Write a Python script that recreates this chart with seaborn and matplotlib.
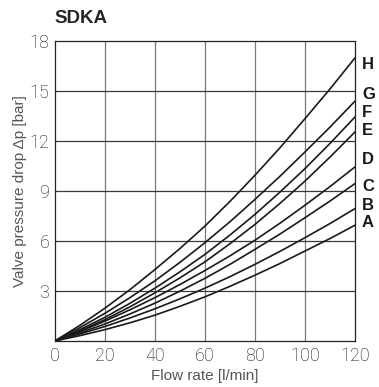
import pandas as pd
import matplotlib
matplotlib.use('Agg')
import matplotlib.pyplot as plt
import seaborn as sns

# Flow rate [l/min] and pressure drop [bar]
flow = [0, 10, 20, 30, 40, 50, 60, 70, 80, 90, 100, 110, 120]
curve_A = [0, 0.32, 0.68, 1.09, 1.55, 2.08, 2.65, 3.28, 3.95, 4.65, 5.40, 6.15, 6.95]
curve_B = [0, 0.42, 0.87, 1.38, 1.93, 2.53, 3.17, 3.86, 4.60, 5.38, 6.20, 7.05, 7.95]
curve_C = [0, 0.49, 1.02, 1.62, 2.27, 2.99, 3.76, 4.60, 5.50, 6.42, 7.40, 8.40, 9.45]
curve_D = [0, 0.57, 1.19, 1.87, 2.60, 3.39, 4.23, 5.11, 6.05, 7.07, 8.15, 9.27, 10.45]
curve_E = [0, 0.61, 1.28, 2.05, 2.89, 3.79, 4.75, 5.84, 7.00, 8.26, 9.60, 11.04, 12.55]
curve_F = [0, 0.68, 1.42, 2.26, 3.17, 4.15, 5.20, 6.36, 7.60, 8.94, 10.35, 11.86, 13.45]
curve_G = [0, 0.80, 1.66, 2.60, 3.61, 4.72, 5.90, 7.16, 8.50, 9.89, 11.35, 12.84, 14.40]
curve_H = [0, 0.94, 1.97, 3.08, 4.29, 5.55, 6.90, 8.38, 9.95, 11.60, 13.35, 15.13, 17.00]
names = ['A', 'B', 'C', 'D', 'E', 'F', 'G', 'H']
x_ticks = [0, 20, 40, 60, 80, 100, 120]
y_ticks = [3, 6, 9, 12, 15, 18]

curves = [curve_A, curve_B, curve_C, curve_D, curve_E, curve_F, curve_G, curve_H]
rows = []
for name, vals in zip(names, curves):
    for q, dp in zip(flow, vals):
        rows.append({'flow': q, 'dp': dp, 'curve': name})
df = pd.DataFrame(rows)

sns.set_style('white')
plt.rcParams['font.family'] = ['Liberation Sans', 'DejaVu Sans']

fig = plt.figure(figsize=(3.79, 3.87), dpi=100)
ax = fig.add_axes([0.145, 0.119, 0.792, 0.775])

# grid first so curves sit on top
for x in x_ticks[1:-1]:
    ax.axvline(x, color='#7a7a7a', lw=0.9, zorder=1)
for y in y_ticks[:-1]:
    ax.axhline(y, color='#3a3a3a', lw=0.9, zorder=1)

sns.lineplot(data=df, x='flow', y='dp', hue='curve',
             palette=['#1a1a1a'] * len(names), lw=1.2,
             legend=False, ax=ax, zorder=3)

ax.set_xlim(0, 120)
ax.set_ylim(0, 18)
ax.set_xticks(x_ticks)
ax.set_yticks(y_ticks)
ax.tick_params(length=0, labelsize=13, colors='#111111', pad=4)
for lab in ax.get_xticklabels() + ax.get_yticklabels():
    lab.set_family('Roboto')
    lab.set_fontweight('light')
for s in ax.spines.values():
    s.set_color('#222222')
    s.set_linewidth(0.9)

ax.set_xlabel('Flow rate [l/min]', fontsize=11, color='#555555', labelpad=3)
ax.set_ylabel('Valve pressure drop Δp [bar]', fontsize=11, color='#555555', labelpad=2)

fig.text(0.145, 0.93, 'SDKA', fontsize=13.5, fontweight='bold', ha='left', va='bottom')

# curve letters on the right
offsets = {'A': 2, 'B': 2, 'C': -2, 'D': 5, 'E': 1, 'F': 3, 'G': 5, 'H': -5}
for name, vals in zip(names, curves):
    ax.annotate(name, xy=(120, vals[-1]), xytext=(5, offsets[name]),
                textcoords='offset points', ha='left', va='center',
                fontsize=12, fontweight='bold', color='#1a1a1a',
                annotation_clip=False)

plt.savefig('out.png', dpi=100)
